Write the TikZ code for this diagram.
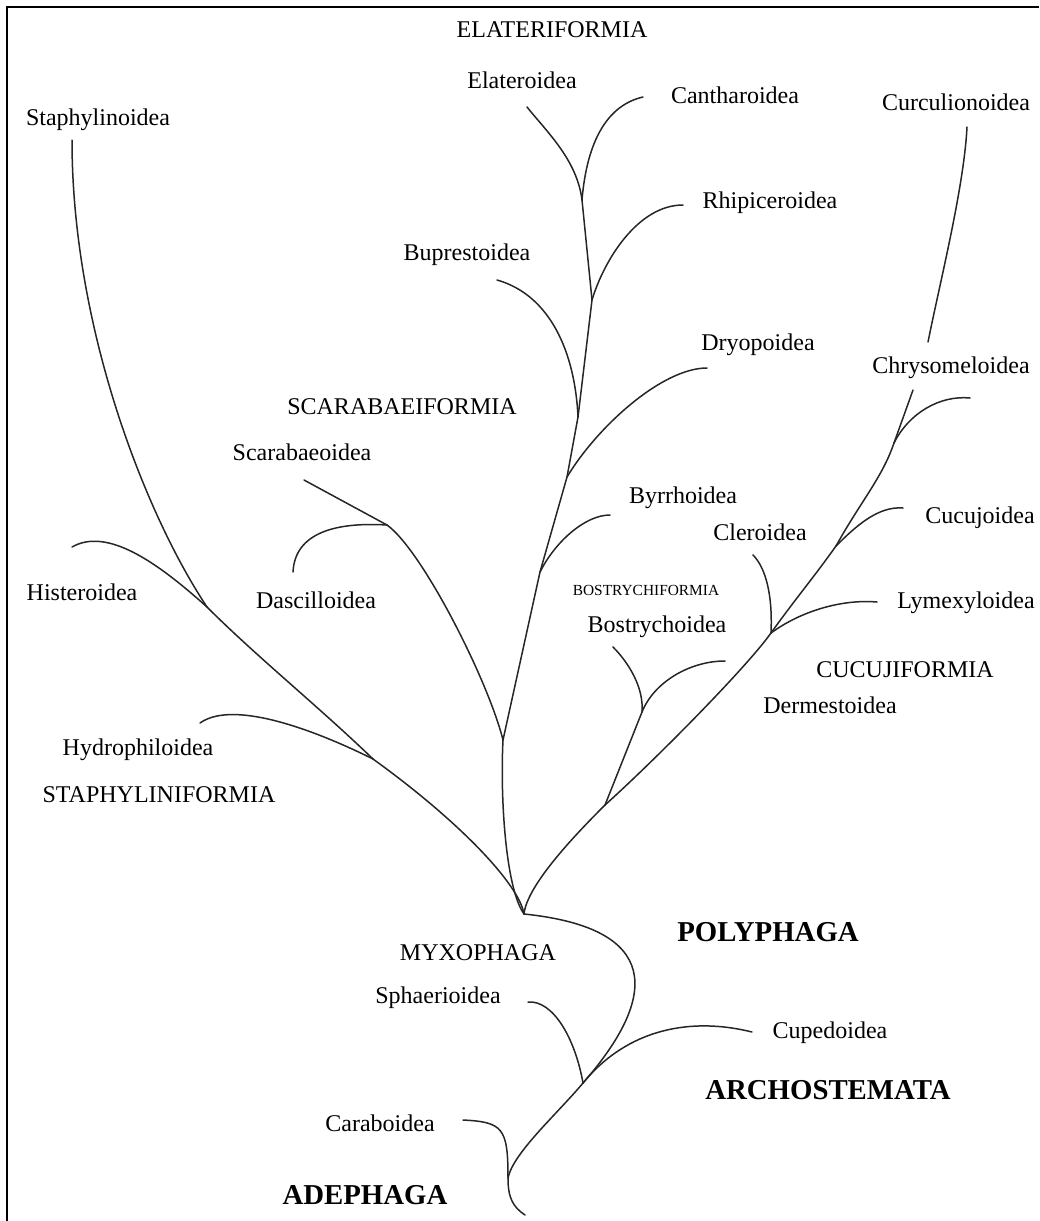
\documentclass[tikz,border=0pt]{standalone}
\usepackage{fontspec}
\setmainfont{Liberation Serif}

\begin{document}
\begin{tikzpicture}[x=0.5pt,y=-0.5pt,
    branch/.style={draw=black!85, line width=0.75pt, line cap=round},
    taxon/.style={font=\fontsize{12}{14}\selectfont, inner sep=0pt},
    order/.style={font=\fontsize{14.4}{17}\selectfont\bfseries, inner sep=0pt},
    smallgroup/.style={font=\fontsize{7.7}{9}\selectfont, inner sep=0pt}]

\useasboundingbox (0,0) rectangle (1039,1221);
\draw[line width=1pt] (1039,7) -- (7,7) -- (7,1221);

% junctions
\coordinate (root) at (525,1215);
\coordinate (adeph) at (508,1178);
\coordinate (archJ) at (583,1083);
\coordinate (polyJ) at (524,914);
\coordinate (hydroJ) at (373,759);
\coordinate (histJ) at (207,607);
\coordinate (scarJ) at (503,740);
\coordinate (scarabJ) at (387,525);
\coordinate (byrrJ) at (540,572);
\coordinate (dryoJ) at (567,477);
\coordinate (buprJ) at (578,417);
\coordinate (rhipJ) at (592,300);
\coordinate (elatJ) at (582,200);
\coordinate (bostJ) at (605,805);
\coordinate (bostJ2) at (642,712);
\coordinate (clerJ) at (771,633);
\coordinate (cucuJ) at (836,546);
\coordinate (chrysJ) at (894,443);
\coordinate (trunkEnd) at (913,390);
\coordinate (curcLo) at (928,342);
% tips
\coordinate (carabTip) at (463,1120);
\coordinate (sphaerTip) at (528,1002);
\coordinate (cupedTip) at (752,1032);
\coordinate (staphTip) at (72,140);
\coordinate (histTip) at (72,547);
\coordinate (hydroTip) at (200,723);
\coordinate (scarabTip) at (304,480);
\coordinate (dascTip) at (293,572);
\coordinate (byrrTip) at (610,515);
\coordinate (dryoTip) at (707,368);
\coordinate (buprTip) at (497,280);
\coordinate (rhipTip) at (683,205);
\coordinate (elatTip) at (527,107);
\coordinate (canthTip) at (643,97);
\coordinate (bostTip) at (613,647);
\coordinate (dermTip) at (725,661);
\coordinate (clerTip) at (753,555);
\coordinate (lymexTip) at (877,602);
\coordinate (cucujTip) at (903,508);
\coordinate (chrysTip) at (970,398);
\coordinate (curcTip) at (967,127);

% base
\draw[branch] (root) .. controls +(-12,-8) and +(0,20) .. (adeph);
\draw[branch] (adeph) .. controls +(0,-50) and +(40,2) .. (carabTip);
\draw[branch] (adeph) .. controls +(5,-25) and +(-25,30) .. (archJ);
\draw[branch] (archJ) .. controls +(-8,-45) and +(25,-2) .. (sphaerTip);
\draw[branch] (archJ) .. controls +(45,-55) and +(-60,-15) .. (cupedTip);
\draw[branch] (archJ) .. controls +(77,-88) and +(136,14) .. (polyJ);

% staphyliniformia
\draw[branch] (polyJ) .. controls +(-5,-30) and +(86,62) .. (hydroJ);
\draw[branch] (hydroJ) .. controls +(-55,-53) and +(50,50) .. (histJ);
\draw[branch] (histJ) .. controls +(-60,-90) and +(0,190) .. (staphTip);
\draw[branch] (histJ) .. controls +(-50,-45) and +(35,-20) .. (histTip);
\draw[branch] (hydroJ) .. controls +(-50,-25) and +(35,-25) .. (hydroTip);

% scarabaeiformia, elateriformia
\draw[branch] (polyJ) .. controls +(-18,-25) and +(-3,60) .. (scarJ);
\draw[branch] (scarJ) .. controls +(-15,-60) and +(35,25) .. (scarabJ);
\draw[branch] (scarabJ) -- (scarabTip);
\draw[branch] (scarabJ) .. controls +(-50,-3) and +(2,-40) .. (dascTip);
\draw[branch] (scarJ) -- (byrrJ) -- (dryoJ) -- (buprJ) -- (rhipJ) -- (elatJ);
\draw[branch] (byrrJ) .. controls +(15,-30) and +(-25,0) .. (byrrTip);
\draw[branch] (dryoJ) .. controls +(30,-50) and +(-45,0) .. (dryoTip);
\draw[branch] (buprJ) .. controls +(-3,-65) and +(53,15) .. (buprTip);
\draw[branch] (rhipJ) .. controls +(12,-40) and +(-45,0) .. (rhipTip);
\draw[branch] (elatJ) .. controls +(-5,-40) and +(20,25) .. (elatTip);
\draw[branch] (elatJ) .. controls +(5,-60) and +(-35,8) .. (canthTip);

% bostrychiformia, cucujiformia
\draw[branch] (polyJ) .. controls +(3,-30) and +(-25,25) .. (bostJ);
\draw[branch] (bostJ) -- (bostJ2);
\draw[branch] (bostJ2) .. controls +(2,-25) and +(15,15) .. (bostTip);
\draw[branch] (bostJ2) .. controls +(12,-30) and +(-35,0) .. (dermTip);
\draw[branch] (bostJ) .. controls +(50,-45) and +(-25,35) .. (clerJ);
\draw[branch] (clerJ) .. controls +(25,-35) and +(-25,35) .. (cucuJ);
\draw[branch] (cucuJ) .. controls +(25,-45) and +(-12,35) .. (chrysJ);
\draw[branch] (chrysJ) -- (trunkEnd);
\draw[branch] (curcLo) .. controls +(12,-60) and +(-3,60) .. (curcTip);
\draw[branch] (clerJ) .. controls +(2,-45) and +(10,10) .. (clerTip);
\draw[branch] (clerJ) .. controls +(30,-22) and +(-35,-3) .. (lymexTip);
\draw[branch] (cucuJ) .. controls +(20,-20) and +(-25,-2) .. (cucujTip);
\draw[branch] (chrysJ) .. controls +(15,-30) and +(-30,-3) .. (chrysTip);

% labels
\node[taxon] (elateriformia) at (552,30) {ELATERIFORMIA};
\node[taxon] (elateroidea) at (522,80) {Elateroidea};
\node[taxon] (cantharoidea) at (735,95) {Cantharoidea};
\node[taxon] (curculionoidea) at (956,102) {Curculionoidea};
\node[taxon] (staphylinoidea) at (98,120) {Staphylinoidea};
\node[taxon] (rhipiceroidea) at (770,203) {Rhipiceroidea};
\node[taxon] (buprestoidea) at (467,255) {Buprestoidea};
\node[taxon] (dryopoidea) at (758,345) {Dryopoidea};
\node[taxon] (chrysomeloidea) at (951,368) {Chrysomeloidea};
\node[taxon] (scarabaeiformia) at (402,407) {SCARABAEIFORMIA};
\node[taxon] (scarabaeoidea) at (302,452) {Scarabaeoidea};
\node[taxon] (byrrhoidea) at (683,498) {Byrrhoidea};
\node[taxon] (cucujoidea) at (980,518) {Cucujoidea};
\node[taxon] (cleroidea) at (760,532) {Cleroidea};
\node[taxon] (histeroidea) at (82,592) {Histeroidea};
\node[smallgroup] (bostrychiformia) at (646,590) {BOSTRYCHIFORMIA};
\node[taxon] (dascilloidea) at (316,600) {Dascilloidea};
\node[taxon] (lymexyloidea) at (966,603) {Lymexyloidea};
\node[taxon] (bostrychoidea) at (657,627) {Bostrychoidea};
\node[taxon] (cucujiformia) at (905,670) {CUCUJIFORMIA};
\node[taxon] (dermestoidea) at (830,705) {Dermestoidea};
\node[taxon] (hydrophiloidea) at (138,750) {Hydrophiloidea};
\node[taxon] (staphyliniformia) at (159,795) {STAPHYLINIFORMIA};
\node[order] (polyphaga) at (768,932) {POLYPHAGA};
\node[taxon] (myxophaga) at (478,953) {MYXOPHAGA};
\node[taxon] (sphaerioidea) at (438,998) {Sphaerioidea};
\node[taxon] (cupedoidea) at (830,1033) {Cupedoidea};
\node[order] (archostemata) at (828,1090) {ARCHOSTEMATA};
\node[taxon] (caraboidea) at (380,1123) {Caraboidea};
\node[order] (adephaga) at (365,1195) {ADEPHAGA};
\end{tikzpicture}
\end{document}
